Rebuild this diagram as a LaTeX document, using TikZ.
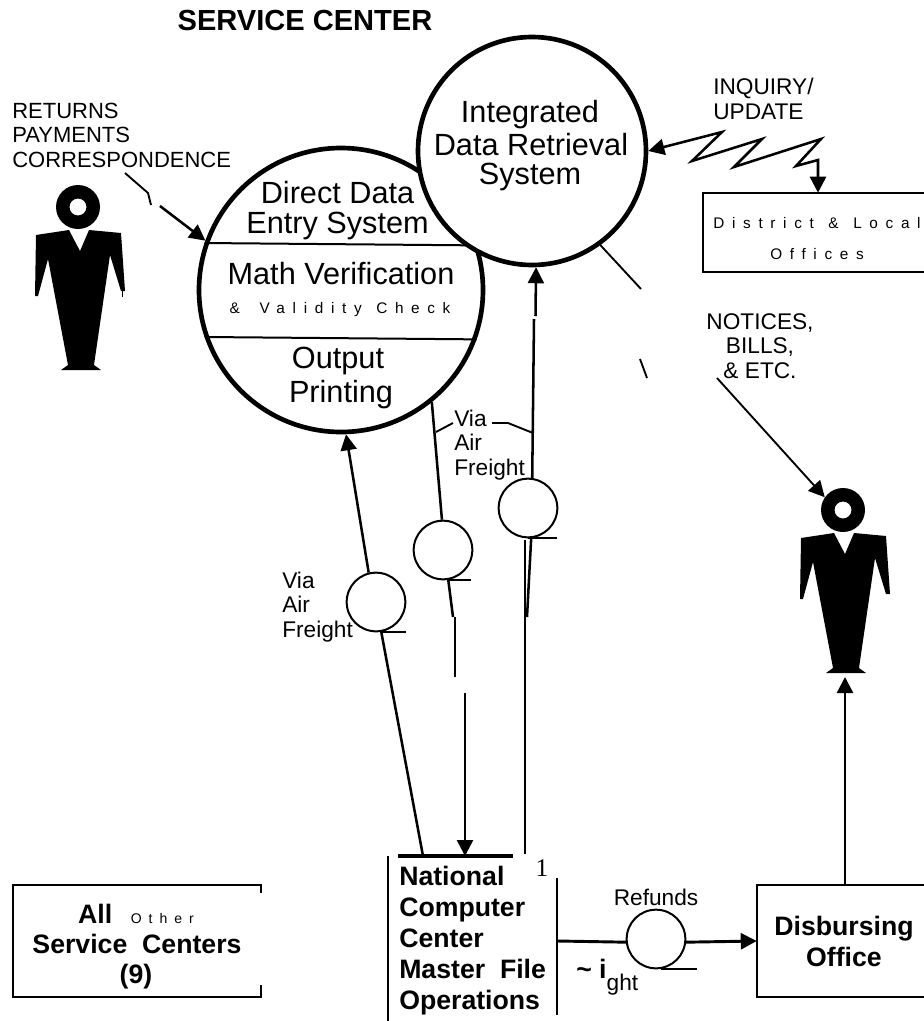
\documentclass[tikz,border=0pt]{standalone}
\usepackage{fontspec}
\setmainfont{Liberation Sans}
\newfontfamily\wideface[LetterSpace=50]{Liberation Sans}
\newfontfamily\oneface{Liberation Serif}
\usetikzlibrary{arrows.meta}
\tikzset{
  lab/.style={inner sep=0pt,font=\fontsize{17}{18.4}\selectfont},
  bigl/.style={inner sep=0pt,font=\fontsize{23}{22.5}\selectfont},
  boldl/.style={inner sep=0pt,font=\fontsize{20}{23.25}\selectfont\bfseries},
  widel/.style={inner sep=0pt,font=\fontsize{11.5}{14}\selectfont\wideface},
  flow/.style={line width=1.9pt},
  thinflow/.style={line width=1.4pt},
  head/.style={-{Triangle[length=12pt,width=12pt]}},
  station/.style={circle,draw,line width=3.5pt,fill=white,inner sep=0pt},
  store/.style={circle,draw,line width=1.5pt,fill=white,inner sep=0pt,minimum size=44pt},
  person/.pic={
    \node (-head) [circle,inner sep=0pt,minimum size=33pt] at (0,0) {};
    \coordinate (-foot) at (2,167);
    \fill[even odd rule] (0,0) circle (22) (0,0) circle (8.5);
    \fill (-42,28) -- (-9,23) -- (2,44) -- (11,23) -- (43,26) -- (47,84) -- (43,84)
      -- (32,48) -- (16,158) -- (23,163) -- (-17,163) -- (-10,158) -- (-30,52)
      -- (-40,89) -- (-43,89) -- cycle;
  }
}
\begin{document}
\begin{tikzpicture}[x=0.75pt,y=-0.75pt]
\useasboundingbox (0,0) rectangle (924,1021);
% the title and the free labels
\node (title) [inner sep=0pt,font=\fontsize{21.8}{24}\selectfont\bfseries] at (305,20) {SERVICE CENTER};
\node (returns) [lab,font=\fontsize{16.5}{18.4}\selectfont,align=left,anchor=west] at (12,135) {RETURNS\\PAYMENTS\\CORRESPONDENCE};
\node (inquiry) [lab,align=left,anchor=west] at (713,99) {INQUIRY/\\UPDATE};
\node (notices) [lab,align=center] at (760,346) {NOTICES,\\BILLS,\\\& ETC.};
% the two people
\pic (payer) at (78,207) {person};
\pic (billed) at (843,510) {person};
\draw[line width=.6pt] (122,287) -- (122,297);
% the big left circle comes first, the top circle then covers its corner
\node (dde) [station,minimum size=213pt] at (341,290) {};
\draw[line width=1.5pt] (dde.161.5) -- (dde.18.5);
\draw[line width=1.5pt] (dde.199.3) -- (dde.340.7);
\node (ddeA) [bigl,align=center] at (337.5,211) {Direct Data\\Entry System};
\node (math) [bigl] at (341,274) {Math Verification};
\node (valid) [widel] at (340,310) {\&\hspace{6pt} Validity\hspace{2pt} Check};
\node (outA) [bigl] at (338,361) {Output};
\node (outB) [bigl] at (341,395) {Printing};
\node (idrs) [station,minimum size=171pt] at (532,151) {};
\node (idrsA) [bigl] at (530,115) {Integrated};
\node (idrsB) [bigl] at (531,145) {Data Retrieval};
\node (idrsC) [bigl] at (530,177) {System};
% the boxes, most of them are open on one side
\node (dlo) [inner sep=0pt,minimum width=165.75pt,minimum height=59.25pt] at (813.5,232.5) {};
\draw[line width=1.5pt] (dlo.north east) -- (dlo.north west) -- (dlo.south west) -- (dlo.south east);
\node (dloA) [widel] at (817,223) {District\hspace{2pt} \&\hspace{2pt} Local};
\node (dloB) [widel] at (817,254) {Offices};
\node (other) [inner sep=0pt,minimum width=185.6pt,minimum height=84pt] at (136.75,941) {};
\draw[line width=1.7pt] ([yshift=-6pt]other.north east) -- (other.north east) -- (other.north west)
  -- (other.south west) -- (other.south east) -- ([yshift=9pt]other.south east);
\node (otherA) [boldl] at (136,914) {All\hspace{14pt}{\fontsize{10.5}{12}\selectfont\mdseries\wideface Other}};
\node (otherB) [boldl] at (137,944) {Service~ Centers};
\node (otherC) [boldl] at (136,977) {(9)};
\node (ncc) [inner sep=0pt,minimum width=127pt,minimum height=123.75pt] at (472.5,938.5) {};
\draw[line width=1.5pt] (ncc.north west) -- (ncc.south west);
\draw[line width=2.4pt] (398,856) -- (513,856);
\draw[line width=1.5pt] (ncc.east |- 0,878) -- (ncc.east |- 0,1015);
\node (nccT) [boldl,align=left,anchor=west] at (399,941) {National\\Computer\\Center\\Master~ File\\Operations};
\node (one) [inner sep=0pt,font=\fontsize{19}{22}\selectfont\oneface] at (542,868) {1};
\node (disb) [inner sep=0pt,minimum width=125.25pt,minimum height=84pt] at (840.5,941) {};
\draw[line width=1.5pt] (disb.north east) -- (disb.north west) -- (disb.south west) -- (disb.south east);
\node (disbT) [boldl,align=center] at (844,941.5) {Disbursing\\Office};
% the tapes on the way between the computer center and the circles
\node (tapeA) [store] at (376,602) {};
\node (tapeB) [store] at (443,550) {};
\node (tapeC) [store] at (528,508) {};
\node (tapeD) [store] at (656,939) {};
\draw[line width=1.5pt] (tapeA.280) -- +(25,0);
\draw[line width=1.5pt] (tapeB.280) -- +(23,0);
\draw[line width=1.5pt] (tapeC.270) -- +(29,0);
\draw[line width=1.5pt] (tapeD.280) -- +(36,0);
\node (viaA) [lab,align=left,anchor=west] at (282,607) {Via\\Air\\Freight};
\node (viaB) [lab,align=left,anchor=west] at (454,445) {Via\\Air\\Freight};
\node (refunds) [lab] at (656,897) {Refunds};
\node (flight) [boldl,anchor=west] at (576,977) {\textasciitilde\ i\raisebox{-9pt}{\fontsize{17}{18}\selectfont\mdseries ght}};
% the free ends of the broken lines
\coordinate (retA) at (125,173);
\coordinate (retB) at (148,193);
\coordinate (retC) at (151,205);
\coordinate (retD) at (160,206);
\coordinate (nccA) at (423,856);
\coordinate (nccB) at (465,856);
\coordinate (nccC) at (525,854);
\coordinate (dnA) at (453,617);
\coordinate (dnB) at (455,617);
\coordinate (dnC) at (455,677);
\coordinate (dnD) at (465,693);
\coordinate (upA) at (534,319);
\coordinate (upB) at (535.5,316);
\coordinate (dcA) at (525,540);
\coordinate (dcC) at (527,617);
\coordinate (billA) at (641,289);
\coordinate (billB) at (640,359);
\coordinate (billC) at (647,378);
\coordinate (billD) at (717,378);
\coordinate (zagE) at (818,160);
% the connectors
\draw[thinflow] (retA) -- (retB) -- (retC);
\draw[flow,head] (retD) -- (dde.160);
\draw[flow] (nccA) -- (tapeA.280);
\draw[flow,head] (tapeA.104) -- (dde.272);
\draw[flow] (dde.309.4) -- (tapeB.92);
\draw[flow] (tapeB.280) -- (dnA);
\draw[flow] (dnB) -- (dnC);
\draw[flow,head] (dnD) -- (nccB);
\draw[flow] (nccC) -- (dcA);
\draw[flow] (tapeC.276) -- (dcC);
\draw[flow] (tapeC.82) -- (upA);
\draw[flow,head] (upB) -- (idrs.272);
\draw[thinflow] (436,432) -- (453,423);
\draw[thinflow] (492,423) -- (508,423) -- (533,433);
\draw[line width=2.2pt] (ncc.east |- disb.west) -- (tapeD.186);
\draw[line width=2.2pt,head] (tapeD.354) -- (disb.west);
\draw[flow,head] (disb.north -| billed-foot) -- (billed-foot);
\draw[flow,{Triangle[length=12pt,width=12pt]}-{Triangle[length=12pt,width=12pt]}]
  (idrs.0) -- (722,132) -- (692,161) -- (762,139) -- (734,167) -- (821,139) -- (796,166)
  -- (zagE) -- (zagE |- dlo.north);
\draw[thinflow] (idrs.306.7) -- (billA);
\draw[thinflow] (billB) -- (billC);
\draw[thinflow,head] (billD) -- (billed-head.145);
\end{tikzpicture}
\end{document}
